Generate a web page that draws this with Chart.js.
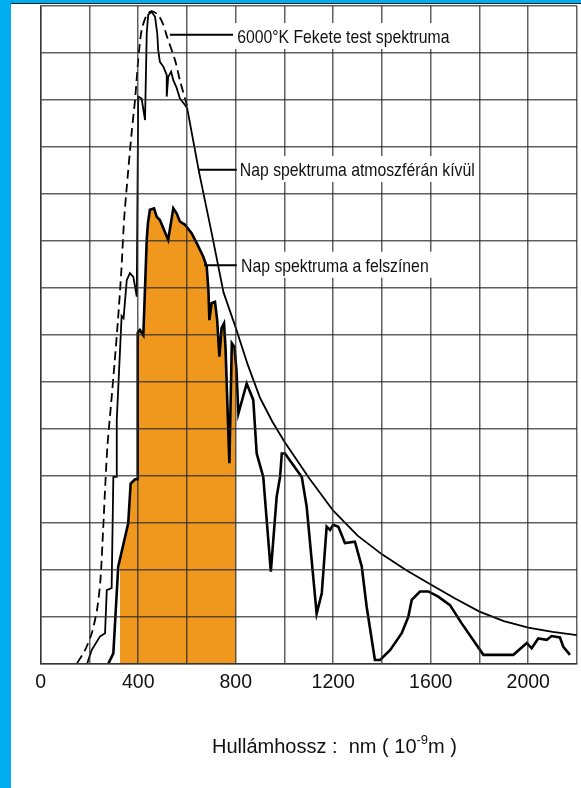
<!DOCTYPE html>
<html>
<head>
<meta charset="utf-8">
<title>Napsugárzás spektruma</title>
<script src="https://cdn.jsdelivr.net/npm/chart.js@4/dist/chart.umd.min.js"></script>
<style>
  html, body { margin: 0; padding: 0; background: #fff; }
  #frame { position: relative; width: 581px; height: 788px; overflow: hidden; background: #fff; }
  #edgeLeft { position: absolute; left: 0; top: 0; width: 11px; height: 788px; background: #00AEEF; }
  #edgeTop { position: absolute; left: 0; top: 0; width: 581px; height: 3px; background: #00AEEF; }
  #edgeLine { position: absolute; left: 11px; top: 3px; width: 570px; height: 1px; background: #14202c; }
  #chart { position: absolute; left: 0; top: 0; }
</style>
</head>
<body>
<div id="frame">
  <div id="edgeLeft"></div>
  <div id="edgeTop"></div>
  <div id="edgeLine"></div>
  <canvas id="chart" width="581" height="788"></canvas>
</div>
<script>
// Wavelength (nm) / relative intensity pairs for each curve.

// 6000 K black body (dashed)
const blackbodyPoints = [
  [149, 0], [182, 0.28], [210, 0.65], [231, 1.14], [245, 1.77], [256, 2.84],
  [266, 3.91], [274, 4.65], [288, 5.48], [303, 6.40], [317, 7.31], [331, 8.38],
  [342, 9.44], [353, 10.14], [373, 11.30], [387, 12.0], [400, 12.85], [414, 13.49],
  [435, 13.81], [455, 13.89], [482, 13.81], [503, 13.60], [518, 13.35], [551, 12.85],
  [571, 12.42], [601, 11.86]
];

// Solar spectrum outside the atmosphere
const outerPoints = [
  [191, 0], [209, 0.28], [243, 0.57], [264, 0.64], [271, 1.56], [291, 1.60],
  [298, 3.97], [312, 3.97], [312, 5.18], [332, 7.40], [340, 7.35], [353, 8.16],
  [366, 8.31], [380, 8.23], [394, 7.81], [400, 12.07], [414, 12.03], [428, 11.57],
  [435, 13.42], [441, 13.81], [455, 13.88], [469, 13.77], [478, 13.42], [482, 13.06],
  [489, 12.81], [503, 12.71], [517, 12.53], [517, 12.07], [523, 12.49], [535, 12.60],
  [544, 12.42], [558, 12.25], [571, 12.03], [592, 11.89], [601, 11.82], [650, 10.45],
  [700, 9.2], [750, 7.9], [800, 7.15], [850, 6.35], [900, 5.65], [950, 5.15],
  [1000, 4.72], [1100, 3.95], [1200, 3.25], [1300, 2.72], [1400, 2.32], [1500, 1.98],
  [1600, 1.68], [1700, 1.38], [1800, 1.10], [1900, 0.90], [2000, 0.76], [2100, 0.67],
  [2200, 0.60]
];

// Solar spectrum at the surface
const surfacePoints = [
  [278, 0], [298, 0.21], [318, 2.06], [359, 2.98], [369, 3.83], [387, 3.92],
  [398, 3.92], [398, 7.04], [407, 7.10], [421, 6.99], [435, 9.02], [440, 9.38],
  [448, 9.66], [465, 9.69], [476, 9.51], [489, 9.44], [523, 9.02], [544, 9.69],
  [558, 9.58], [571, 9.41], [592, 9.34], [619, 9.16], [640, 8.95], [667, 8.66],
  [681, 8.45], [688, 7.95], [692, 7.31], [701, 7.67], [715, 7.70], [724, 7.31],
  [733, 6.53], [742, 7.14], [752, 7.24], [758, 6.74], [774, 4.26], [784, 6.82],
  [795, 6.74], [803, 6.25], [811, 5.32], [845, 5.96], [872, 5.61], [886, 4.47],
  [913, 3.97], [944, 1.95], [968, 3.55], [982, 3.97], [989, 4.47], [1002, 4.47],
  [1071, 3.97], [1091, 3.34], [1132, 1.06], [1153, 1.49], [1173, 2.91], [1187, 2.84],
  [1200, 2.95], [1221, 2.91], [1248, 2.56], [1289, 2.59], [1317, 2.06], [1337, 1.21],
  [1371, 0.07], [1392, 0.07], [1433, 0.28], [1481, 0.64], [1508, 0.99], [1522, 1.35],
  [1556, 1.53], [1590, 1.53], [1631, 1.42], [1679, 1.24], [1727, 0.85], [1816, 0.18],
  [1939, 0.18], [1994, 0.43], [2014, 0.32], [2041, 0.53], [2076, 0.50], [2096, 0.58],
  [2130, 0.55], [2144, 0.35], [2171, 0.18]
];

// Shaded visible band: limits and the surface curve height at those limits
const visibleRange = [325, 800];
const visibleEdgeValues = [2.22, 6.43];

// Axis ticks
const xTickLabels = [0, 400, 800, 1200, 1600, 2000];
const xStep = 200;
const yMax = 14;

const xAxisTitle = ['Hullámhossz :  nm ( 10', '-9', 'm )'];

const callouts = [
  { text: '6000°K Fekete test spektruma', from: [530, 13.39], to: [789, 13.39], textAt: [806, 13.21] },
  { text: 'Nap spektruma atmoszférán kívül', from: [649, 10.51], to: [804, 10.51], textAt: [817, 10.38] },
  { text: 'Nap spektruma a felszínen', from: [670, 8.48], to: [804, 8.48], textAt: [822, 8.34] }
];

const toXY = pts => pts.map(([x, y]) => ({ x, y }));

const visibleBand = [
  [visibleRange[0], visibleEdgeValues[0]],
  ...surfacePoints.filter(p => p[0] > visibleRange[0] && p[0] < visibleRange[1]),
  [visibleRange[1], visibleEdgeValues[1]]
];

const gridColor = 'rgba(40,40,40,0.74)';

// Callout labels with white boxes, leader lines and the x axis title
const annotationPlugin = {
  id: 'spectrumAnnotations',
  afterDraw(chart) {
    const { ctx, scales: { x, y } } = chart;
    const squeeze = 0.83;
    ctx.save();
    ctx.font = '19px "Liberation Sans", Arial, sans-serif';
    ctx.textBaseline = 'alphabetic';
    callouts.forEach(c => {
      const x1 = x.getPixelForValue(c.from[0]);
      const x2 = x.getPixelForValue(c.to[0]);
      const ly = y.getPixelForValue(c.from[1]);
      const tx = x.getPixelForValue(c.textAt[0]);
      const ty = y.getPixelForValue(c.textAt[1]);
      const w = ctx.measureText(c.text).width * squeeze;
      ctx.fillStyle = '#fff';
      ctx.fillRect(tx - 3, ty - 20, w + 7, 26);
      ctx.strokeStyle = '#000';
      ctx.lineWidth = 2;
      ctx.beginPath();
      ctx.moveTo(x1, ly);
      ctx.lineTo(x2, ly);
      ctx.stroke();
      ctx.save();
      ctx.translate(tx, ty);
      ctx.scale(squeeze, 1);
      ctx.fillStyle = '#111';
      ctx.fillText(c.text, 0, 0);
      ctx.restore();
    });

    // x axis title with superscript exponent
    const tx0 = 212, base = 753;
    ctx.fillStyle = '#111';
    ctx.font = '20px "Liberation Sans", Arial, sans-serif';
    ctx.fillText(xAxisTitle[0], tx0, base);
    let cx = tx0 + ctx.measureText(xAxisTitle[0]).width;
    ctx.font = '13px "Liberation Sans", Arial, sans-serif';
    ctx.fillText(xAxisTitle[1], cx, base - 9);
    cx += ctx.measureText(xAxisTitle[1]).width;
    ctx.font = '20px "Liberation Sans", Arial, sans-serif';
    ctx.fillText(xAxisTitle[2], cx, base);
    ctx.restore();
  }
};

new Chart(document.getElementById('chart'), {
  type: 'line',
  data: {
    datasets: [
      {
        label: 'Nap spektruma a felszínen',
        data: toXY(surfacePoints),
        borderColor: '#000',
        borderWidth: 2.6,
        pointRadius: 0,
        tension: 0,
        fill: false,
        order: 1
      },
      {
        label: 'Nap spektruma atmoszférán kívül',
        data: toXY(outerPoints),
        borderColor: '#000',
        borderWidth: 1.8,
        pointRadius: 0,
        tension: 0,
        fill: false,
        order: 2
      },
      {
        label: '6000°K Fekete test spektruma',
        data: toXY(blackbodyPoints),
        borderColor: '#000',
        borderWidth: 1.8,
        borderDash: [9, 5],
        pointRadius: 0,
        tension: 0.25,
        fill: false,
        order: 3
      },
      {
        label: 'Látható tartomány',
        data: toXY(visibleBand),
        borderWidth: 0,
        borderColor: 'rgba(0,0,0,0)',
        backgroundColor: '#F0981E',
        pointRadius: 0,
        tension: 0,
        fill: 'origin',
        order: 4
      }
    ]
  },
  options: {
    responsive: false,
    animation: false,
    events: [],
    layout: { padding: { left: 40.7, right: 0, top: 6, bottom: 85.5 } },
    plugins: { legend: { display: false }, tooltip: { enabled: false } },
    scales: {
      x: {
        type: 'linear',
        min: 0,
        max: 2200,
        ticks: {
          stepSize: xStep,
          autoSkip: false,
          maxRotation: 0,
          padding: 4,
          color: '#111',
          font: { family: '"Liberation Sans", Arial, sans-serif', size: 19.5, lineHeight: 1.6 },
          callback: v => (xTickLabels.includes(v) ? String(v) : '')
        },
        grid: { color: gridColor, lineWidth: 1.5, drawTicks: false, z: 1 },
        border: { display: true, color: gridColor, width: 1.5, z: 1 }
      },
      y: {
        min: 0,
        max: yMax,
        ticks: { stepSize: 1, display: false },
        grid: { color: gridColor, lineWidth: 1.5, drawTicks: false, z: 1 },
        border: { display: true, color: gridColor, width: 1.5, z: 1 }
      }
    }
  },
  plugins: [annotationPlugin]
});
</script>
</body>
</html>
